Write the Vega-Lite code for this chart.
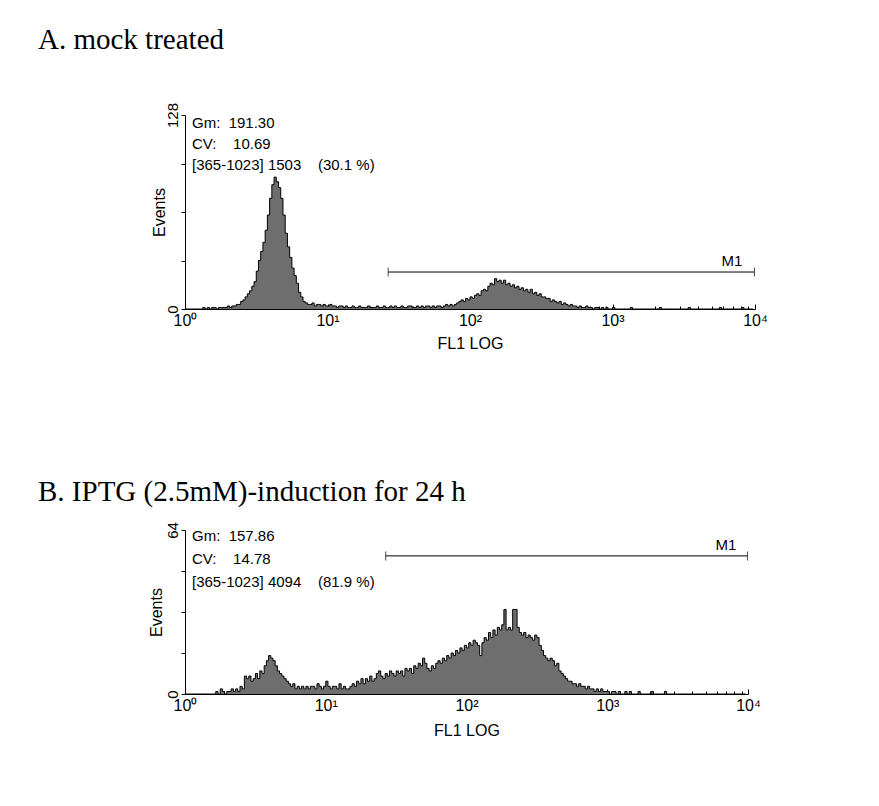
{
"$schema": "https://vega.github.io/schema/vega-lite/v6.json",
"background": "white",
"padding": {"left": 38, "top": 26, "right": 5, "bottom": 5},
"config": {"view": {"stroke": null}, "font": "Liberation Sans", "axis": {"grid": false, "domainColor": "black", "tickColor": "black", "labelColor": "black", "titleColor": "black", "labelFont": "Liberation Sans", "titleFont": "Liberation Sans", "titleFontWeight": "normal"}},
"datasets": {
"a": [{"c":0,"n":0},{"c":4,"n":0},{"c":8,"n":0},{"c":12,"n":0},{"c":16,"n":0},{"c":20,"n":0},{"c":24,"n":0},{"c":28,"n":0},{"c":32,"n":1},{"c":36,"n":0},{"c":40,"n":1},{"c":44,"n":0},{"c":48,"n":1},{"c":52,"n":1},{"c":56,"n":0},{"c":60,"n":1},{"c":64,"n":1},{"c":68,"n":1},{"c":72,"n":1},{"c":76,"n":2},{"c":80,"n":1},{"c":84,"n":2},{"c":88,"n":2},{"c":92,"n":3},{"c":96,"n":3},{"c":100,"n":5},{"c":104,"n":6},{"c":108,"n":8},{"c":112,"n":10},{"c":116,"n":12},{"c":120,"n":15},{"c":124,"n":18},{"c":128,"n":25},{"c":132,"n":32},{"c":136,"n":38},{"c":140,"n":44},{"c":144,"n":52},{"c":148,"n":62},{"c":152,"n":73},{"c":156,"n":82},{"c":160,"n":87},{"c":164,"n":84},{"c":168,"n":80},{"c":172,"n":73},{"c":176,"n":62},{"c":180,"n":50},{"c":184,"n":41},{"c":188,"n":34},{"c":192,"n":27},{"c":196,"n":22},{"c":200,"n":17},{"c":204,"n":11},{"c":208,"n":8},{"c":212,"n":5},{"c":216,"n":4},{"c":220,"n":3},{"c":224,"n":3},{"c":228,"n":4},{"c":232,"n":2},{"c":236,"n":3},{"c":240,"n":3},{"c":244,"n":2},{"c":248,"n":3},{"c":252,"n":2},{"c":256,"n":2},{"c":260,"n":3},{"c":264,"n":2},{"c":268,"n":2},{"c":272,"n":1},{"c":276,"n":2},{"c":280,"n":2},{"c":284,"n":1},{"c":288,"n":2},{"c":292,"n":1},{"c":296,"n":1},{"c":300,"n":2},{"c":304,"n":1},{"c":308,"n":1},{"c":312,"n":2},{"c":316,"n":1},{"c":320,"n":1},{"c":324,"n":1},{"c":328,"n":2},{"c":332,"n":1},{"c":336,"n":1},{"c":340,"n":1},{"c":344,"n":2},{"c":348,"n":1},{"c":352,"n":1},{"c":356,"n":2},{"c":360,"n":1},{"c":364,"n":1},{"c":368,"n":2},{"c":372,"n":1},{"c":376,"n":2},{"c":380,"n":1},{"c":384,"n":1},{"c":388,"n":2},{"c":392,"n":1},{"c":396,"n":1},{"c":400,"n":2},{"c":404,"n":2},{"c":408,"n":1},{"c":412,"n":1},{"c":416,"n":2},{"c":420,"n":1},{"c":424,"n":2},{"c":428,"n":1},{"c":432,"n":2},{"c":436,"n":2},{"c":440,"n":1},{"c":444,"n":2},{"c":448,"n":1},{"c":452,"n":2},{"c":456,"n":2},{"c":460,"n":1},{"c":464,"n":2},{"c":468,"n":3},{"c":472,"n":2},{"c":476,"n":3},{"c":480,"n":2},{"c":484,"n":3},{"c":488,"n":4},{"c":492,"n":5},{"c":496,"n":6},{"c":500,"n":5},{"c":504,"n":7},{"c":508,"n":6},{"c":512,"n":8},{"c":516,"n":7},{"c":520,"n":9},{"c":524,"n":10},{"c":528,"n":9},{"c":532,"n":12},{"c":536,"n":13},{"c":540,"n":12},{"c":544,"n":15},{"c":548,"n":17},{"c":552,"n":16},{"c":556,"n":20},{"c":560,"n":18},{"c":564,"n":19},{"c":568,"n":17},{"c":572,"n":19},{"c":576,"n":16},{"c":580,"n":17},{"c":584,"n":15},{"c":588,"n":16},{"c":592,"n":14},{"c":596,"n":15},{"c":600,"n":13},{"c":604,"n":14},{"c":608,"n":12},{"c":612,"n":13},{"c":616,"n":11},{"c":620,"n":13},{"c":624,"n":10},{"c":628,"n":11},{"c":632,"n":9},{"c":636,"n":10},{"c":640,"n":8},{"c":644,"n":8},{"c":648,"n":7},{"c":652,"n":7},{"c":656,"n":5},{"c":660,"n":6},{"c":664,"n":5},{"c":668,"n":4},{"c":672,"n":5},{"c":676,"n":3},{"c":680,"n":4},{"c":684,"n":3},{"c":688,"n":2},{"c":692,"n":3},{"c":696,"n":2},{"c":700,"n":2},{"c":704,"n":1},{"c":708,"n":2},{"c":712,"n":1},{"c":716,"n":1},{"c":720,"n":2},{"c":724,"n":1},{"c":728,"n":1},{"c":732,"n":0},{"c":736,"n":1},{"c":740,"n":1},{"c":744,"n":0},{"c":748,"n":1},{"c":752,"n":0},{"c":756,"n":1},{"c":760,"n":0},{"c":764,"n":0},{"c":768,"n":1},{"c":772,"n":0},{"c":776,"n":0},{"c":780,"n":0},{"c":784,"n":0},{"c":788,"n":0},{"c":792,"n":0},{"c":796,"n":0},{"c":800,"n":1},{"c":804,"n":0},{"c":808,"n":0},{"c":812,"n":0},{"c":816,"n":0},{"c":820,"n":0},{"c":824,"n":0},{"c":828,"n":0},{"c":832,"n":0},{"c":836,"n":0},{"c":840,"n":0},{"c":844,"n":0},{"c":848,"n":0},{"c":852,"n":1},{"c":856,"n":0},{"c":860,"n":0},{"c":864,"n":0},{"c":868,"n":0},{"c":872,"n":0},{"c":876,"n":0},{"c":880,"n":0},{"c":884,"n":0},{"c":888,"n":0},{"c":892,"n":0},{"c":896,"n":0},{"c":900,"n":0},{"c":904,"n":1},{"c":908,"n":0},{"c":912,"n":0},{"c":916,"n":0},{"c":920,"n":0},{"c":924,"n":0},{"c":928,"n":0},{"c":932,"n":0},{"c":936,"n":0},{"c":940,"n":0},{"c":944,"n":0},{"c":948,"n":0},{"c":952,"n":0},{"c":956,"n":0},{"c":960,"n":1},{"c":964,"n":0},{"c":968,"n":0},{"c":972,"n":0},{"c":976,"n":0},{"c":980,"n":0},{"c":984,"n":0},{"c":988,"n":0},{"c":992,"n":0},{"c":996,"n":0},{"c":1000,"n":1},{"c":1004,"n":0},{"c":1008,"n":0},{"c":1012,"n":0},{"c":1016,"n":0},{"c":1020,"n":0}],
"b": [{"c":0,"n":0},{"c":4,"n":0},{"c":8,"n":0},{"c":12,"n":0},{"c":16,"n":0},{"c":20,"n":0},{"c":24,"n":0},{"c":28,"n":0},{"c":32,"n":0},{"c":36,"n":0},{"c":40,"n":0},{"c":44,"n":0},{"c":48,"n":0},{"c":52,"n":0},{"c":56,"n":1},{"c":60,"n":0},{"c":64,"n":2},{"c":68,"n":1},{"c":72,"n":0},{"c":76,"n":1},{"c":80,"n":1},{"c":84,"n":2},{"c":88,"n":1},{"c":92,"n":2},{"c":96,"n":1},{"c":100,"n":3},{"c":104,"n":2},{"c":108,"n":7},{"c":112,"n":6},{"c":116,"n":7},{"c":120,"n":5},{"c":124,"n":6},{"c":128,"n":8},{"c":132,"n":6},{"c":136,"n":9},{"c":140,"n":8},{"c":144,"n":11},{"c":148,"n":13},{"c":152,"n":15},{"c":156,"n":14},{"c":160,"n":13},{"c":164,"n":11},{"c":168,"n":9},{"c":172,"n":8},{"c":176,"n":7},{"c":180,"n":6},{"c":184,"n":5},{"c":188,"n":4},{"c":192,"n":3},{"c":196,"n":4},{"c":200,"n":2},{"c":204,"n":3},{"c":208,"n":2},{"c":212,"n":3},{"c":216,"n":2},{"c":220,"n":3},{"c":224,"n":2},{"c":228,"n":3},{"c":232,"n":3},{"c":236,"n":2},{"c":240,"n":4},{"c":244,"n":3},{"c":248,"n":2},{"c":252,"n":3},{"c":256,"n":5},{"c":260,"n":3},{"c":264,"n":2},{"c":268,"n":3},{"c":272,"n":3},{"c":276,"n":2},{"c":280,"n":4},{"c":284,"n":2},{"c":288,"n":3},{"c":292,"n":2},{"c":296,"n":2},{"c":300,"n":3},{"c":304,"n":4},{"c":308,"n":3},{"c":312,"n":5},{"c":316,"n":4},{"c":320,"n":6},{"c":324,"n":4},{"c":328,"n":6},{"c":332,"n":5},{"c":336,"n":7},{"c":340,"n":5},{"c":344,"n":6},{"c":348,"n":8},{"c":352,"n":9},{"c":356,"n":7},{"c":360,"n":6},{"c":364,"n":8},{"c":368,"n":7},{"c":372,"n":9},{"c":376,"n":8},{"c":380,"n":7},{"c":384,"n":9},{"c":388,"n":8},{"c":392,"n":9},{"c":396,"n":7},{"c":400,"n":10},{"c":404,"n":9},{"c":408,"n":10},{"c":412,"n":8},{"c":416,"n":11},{"c":420,"n":10},{"c":424,"n":12},{"c":428,"n":11},{"c":432,"n":14},{"c":436,"n":12},{"c":440,"n":10},{"c":444,"n":9},{"c":448,"n":11},{"c":452,"n":10},{"c":456,"n":12},{"c":460,"n":13},{"c":464,"n":12},{"c":468,"n":14},{"c":472,"n":13},{"c":476,"n":15},{"c":480,"n":14},{"c":484,"n":16},{"c":488,"n":15},{"c":492,"n":17},{"c":496,"n":16},{"c":500,"n":18},{"c":504,"n":17},{"c":508,"n":19},{"c":512,"n":18},{"c":516,"n":20},{"c":520,"n":19},{"c":524,"n":21},{"c":528,"n":20},{"c":532,"n":19},{"c":536,"n":15},{"c":540,"n":20},{"c":544,"n":22},{"c":548,"n":21},{"c":552,"n":24},{"c":556,"n":22},{"c":560,"n":25},{"c":564,"n":23},{"c":568,"n":26},{"c":572,"n":25},{"c":576,"n":27},{"c":580,"n":33},{"c":584,"n":25},{"c":588,"n":26},{"c":592,"n":25},{"c":596,"n":33},{"c":600,"n":33},{"c":604,"n":26},{"c":608,"n":24},{"c":612,"n":23},{"c":616,"n":24},{"c":620,"n":22},{"c":624,"n":23},{"c":628,"n":22},{"c":632,"n":21},{"c":636,"n":23},{"c":640,"n":22},{"c":644,"n":19},{"c":648,"n":17},{"c":652,"n":15},{"c":656,"n":14},{"c":660,"n":13},{"c":664,"n":14},{"c":668,"n":13},{"c":672,"n":11},{"c":676,"n":12},{"c":680,"n":9},{"c":684,"n":8},{"c":688,"n":7},{"c":692,"n":6},{"c":696,"n":5},{"c":700,"n":5},{"c":704,"n":4},{"c":708,"n":4},{"c":712,"n":3},{"c":716,"n":4},{"c":720,"n":3},{"c":724,"n":3},{"c":728,"n":2},{"c":732,"n":3},{"c":736,"n":2},{"c":740,"n":2},{"c":744,"n":1},{"c":748,"n":2},{"c":752,"n":1},{"c":756,"n":2},{"c":760,"n":1},{"c":764,"n":1},{"c":768,"n":1},{"c":772,"n":0},{"c":776,"n":1},{"c":780,"n":1},{"c":784,"n":0},{"c":788,"n":1},{"c":792,"n":0},{"c":796,"n":0},{"c":800,"n":1},{"c":804,"n":0},{"c":808,"n":1},{"c":812,"n":0},{"c":816,"n":0},{"c":820,"n":0},{"c":824,"n":1},{"c":828,"n":0},{"c":832,"n":0},{"c":836,"n":0},{"c":840,"n":0},{"c":844,"n":0},{"c":848,"n":1},{"c":852,"n":0},{"c":856,"n":0},{"c":860,"n":0},{"c":864,"n":0},{"c":868,"n":0},{"c":872,"n":1},{"c":876,"n":0},{"c":880,"n":0},{"c":884,"n":0},{"c":888,"n":0},{"c":892,"n":0},{"c":896,"n":0},{"c":900,"n":0},{"c":904,"n":0},{"c":908,"n":0},{"c":912,"n":0},{"c":916,"n":0},{"c":920,"n":0},{"c":924,"n":0},{"c":928,"n":0},{"c":932,"n":0},{"c":936,"n":0},{"c":940,"n":0},{"c":944,"n":0},{"c":948,"n":0},{"c":952,"n":0},{"c":956,"n":0},{"c":960,"n":0},{"c":964,"n":0},{"c":968,"n":0},{"c":972,"n":0},{"c":976,"n":0},{"c":980,"n":0},{"c":984,"n":0},{"c":988,"n":0},{"c":992,"n":0},{"c":996,"n":0},{"c":1000,"n":0},{"c":1004,"n":0},{"c":1008,"n":0},{"c":1012,"n":0},{"c":1016,"n":0},{"c":1020,"n":0}],
"gate": [{"gate": "M1", "lo": 365, "hi": 1023}]
},
"spacing": 126,
"vconcat": [
{
"width": 570, "height": 194,
"title": {"text": "A. mock treated", "anchor": "start", "frame": "group", "dx": -147, "offset": 47, "font": "Liberation Serif", "fontSize": 29, "fontWeight": "normal", "color": "black"},
"resolve": {"axis": {"x": "independent"}},
"layer": [
{"data": {"name": "a"},
 "mark": {"type": "area", "interpolate": "step-after", "color": "#6e6e6e", "opacity": 1, "fillOpacity": 1, "line": {"color": "black", "strokeWidth": 1}},
 "encoding": {
  "x": {"field": "c", "type": "quantitative", "scale": {"domain": [0, 1024], "nice": false, "zero": false},
   "axis": {"orient": "bottom", "title": "FL1 LOG", "values": [0, 256, 512, 768, 1024],
    "labelExpr": "datum.value == 0 ? '10⁰' : datum.value == 256 ? '10¹' : datum.value == 512 ? '10²' : datum.value == 768 ? '10³' : '10⁴'",
    "tickSize": -5, "labelPadding": 8, "labelFlush": false, "labelOverlap": false, "labelFontSize": 16, "titleFontSize": 16, "titlePadding": 7}},
  "y": {"field": "n", "type": "quantitative", "scale": {"domain": [0, 128], "nice": false},
   "axis": {"title": "Events", "values": [0, 32, 64, 96, 128], "labelExpr": "datum.value == 0 || datum.value == 128 ? datum.label : ''", "labelAngle": -90, "labelAlign": "center", "labelBaseline": "bottom", "labelFlush": false, "labelOverlap": false, "tickSize": 4, "labelPadding": 1, "labelFontSize": 15, "titleFontSize": 16, "titlePadding": -2}}
 }},
{"data": {"name": "gate"},
 "mark": {"type": "rule", "color": "black", "strokeWidth": 1},
 "encoding": {"x": {"field": "lo", "type": "quantitative",
   "axis": {"orient": "bottom", "title": null, "labels": false, "domain": false, "tickSize": -3, "values": [77.06,122.14,154.13,178.94,199.21,216.35,231.19,244.29,333.06,378.14,410.13,434.94,455.21,472.35,487.19,500.29,589.06,634.14,666.13,690.94,711.21,728.35,743.19,756.29,845.06,890.14,922.13,946.94,967.21,984.35,999.19,1012.29]}},
  "x2": {"field": "hi"}, "y": {"datum": 24.4, "type": "quantitative"}}},
{"data": {"name": "gate"},
 "mark": {"type": "tick", "orient": "vertical", "size": 9, "thickness": 1, "color": "black"},
 "encoding": {"x": {"field": "lo", "type": "quantitative", "axis": null}, "y": {"datum": 24.4, "type": "quantitative"}}},
{"data": {"name": "gate"},
 "mark": {"type": "tick", "orient": "vertical", "size": 9, "thickness": 1, "color": "black"},
 "encoding": {"x": {"field": "hi", "type": "quantitative", "axis": null}, "y": {"datum": 24.4, "type": "quantitative"}}},
{"data": {"name": "gate"},
 "mark": {"type": "text", "align": "right", "baseline": "alphabetic", "dx": -12, "dy": -6, "fontSize": 15, "color": "black"},
 "encoding": {"x": {"field": "hi", "type": "quantitative", "axis": null}, "y": {"datum": 24.4, "type": "quantitative"}, "text": {"field": "gate"}}},
{"data": {"values": [{}]},
 "mark": {"type": "text", "align": "left", "baseline": "top", "dx": 7, "dy": 1, "fontSize": 15, "lineHeight": 21, "color": "black"},
 "encoding": {"x": {"datum": 0, "type": "quantitative", "axis": null}, "y": {"datum": 128, "type": "quantitative"},
  "text": {"value": ["Gm:\u00a0\u00a0191.30", "CV:\u00a0\u00a0\u00a0\u00a010.69", "[365-1023] 1503\u00a0\u00a0\u00a0\u00a0(30.1 %)"]}}}
]
},
{
"width": 563, "height": 164,
"title": {"text": "B. IPTG (2.5mM)-induction for 24 h", "anchor": "start", "frame": "group", "dx": -147, "offset": 15, "font": "Liberation Serif", "fontSize": 29, "fontWeight": "normal", "color": "black"},
"resolve": {"axis": {"x": "independent"}},
"layer": [
{"data": {"name": "b"},
 "mark": {"type": "area", "interpolate": "step-after", "color": "#6e6e6e", "opacity": 1, "fillOpacity": 1, "line": {"color": "black", "strokeWidth": 1}},
 "encoding": {
  "x": {"field": "c", "type": "quantitative", "scale": {"domain": [0, 1024], "nice": false, "zero": false},
   "axis": {"orient": "bottom", "title": "FL1 LOG", "values": [0, 256, 512, 768, 1024],
    "labelExpr": "datum.value == 0 ? '10⁰' : datum.value == 256 ? '10¹' : datum.value == 512 ? '10²' : datum.value == 768 ? '10³' : '10⁴'",
    "tickSize": -5, "labelPadding": 8, "labelFlush": false, "labelOverlap": false, "labelFontSize": 16, "titleFontSize": 16, "titlePadding": 9}},
  "y": {"field": "n", "type": "quantitative", "scale": {"domain": [0, 64], "nice": false},
   "axis": {"title": "Events", "values": [0, 16, 32, 48, 64], "labelExpr": "datum.value == 0 || datum.value == 64 ? datum.label : ''", "labelAngle": -90, "labelAlign": "center", "labelBaseline": "bottom", "labelFlush": false, "labelOverlap": false, "tickSize": 4, "labelPadding": 1, "labelFontSize": 15, "titleFontSize": 16, "titlePadding": 1}}
 }},
{"data": {"name": "gate"},
 "mark": {"type": "rule", "color": "black", "strokeWidth": 1},
 "encoding": {"x": {"field": "lo", "type": "quantitative",
   "axis": {"orient": "bottom", "title": null, "labels": false, "domain": false, "tickSize": -3, "values": [77.06,122.14,154.13,178.94,199.21,216.35,231.19,244.29,333.06,378.14,410.13,434.94,455.21,472.35,487.19,500.29,589.06,634.14,666.13,690.94,711.21,728.35,743.19,756.29,845.06,890.14,922.13,946.94,967.21,984.35,999.19,1012.29]}},
  "x2": {"field": "hi"}, "y": {"datum": 53.9, "type": "quantitative"}}},
{"data": {"name": "gate"},
 "mark": {"type": "tick", "orient": "vertical", "size": 9, "thickness": 1, "color": "black"},
 "encoding": {"x": {"field": "lo", "type": "quantitative", "axis": null}, "y": {"datum": 53.9, "type": "quantitative"}}},
{"data": {"name": "gate"},
 "mark": {"type": "tick", "orient": "vertical", "size": 9, "thickness": 1, "color": "black"},
 "encoding": {"x": {"field": "hi", "type": "quantitative", "axis": null}, "y": {"datum": 53.9, "type": "quantitative"}}},
{"data": {"name": "gate"},
 "mark": {"type": "text", "align": "right", "baseline": "alphabetic", "dx": -11, "dy": -6, "fontSize": 15, "color": "black"},
 "encoding": {"x": {"field": "hi", "type": "quantitative", "axis": null}, "y": {"datum": 53.9, "type": "quantitative"}, "text": {"field": "gate"}}},
{"data": {"values": [{}]},
 "mark": {"type": "text", "align": "left", "baseline": "top", "dx": 7, "dy": -1, "fontSize": 15, "lineHeight": 23, "color": "black"},
 "encoding": {"x": {"datum": 0, "type": "quantitative", "axis": null}, "y": {"datum": 64, "type": "quantitative"},
  "text": {"value": ["Gm:\u00a0\u00a0157.86", "CV:\u00a0\u00a0\u00a0\u00a014.78", "[365-1023] 4094\u00a0\u00a0\u00a0\u00a0(81.9 %)"]}}}
]
}
]
}
